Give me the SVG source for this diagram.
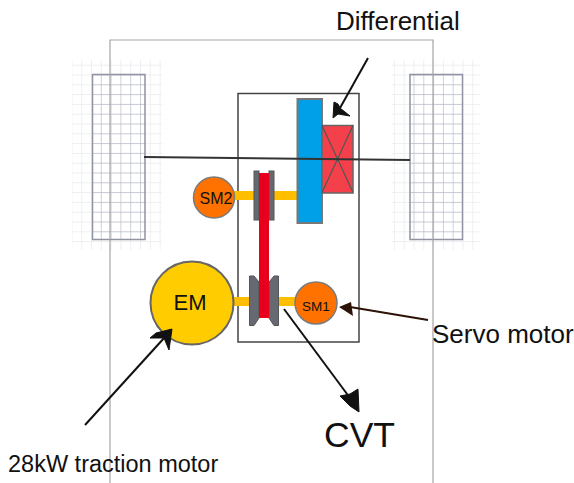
<svg xmlns="http://www.w3.org/2000/svg" width="574" height="483" viewBox="0 0 574 483">
<defs>
<pattern id="treadL" width="9.8" height="9.8" patternUnits="userSpaceOnUse" x="91" y="74.500"><path d="M0 0H9.800M0 0V9.800" stroke="#b4b8c4" stroke-width="1.300" fill="none"/></pattern>
<pattern id="treadR" width="9.8" height="9.8" patternUnits="userSpaceOnUse" x="413.500" y="74.500"><path d="M0 0H9.800M0 0V9.800" stroke="#b4b8c4" stroke-width="1.300" fill="none"/></pattern>
<pattern id="haloL" width="9.8" height="9.8" patternUnits="userSpaceOnUse" x="91" y="74.500"><path d="M0 0H9.800M0 0V9.800" stroke="#eeeff2" stroke-width="2" fill="none"/></pattern>
<pattern id="haloR" width="9.8" height="9.8" patternUnits="userSpaceOnUse" x="413.500" y="74.500"><path d="M0 0H9.800M0 0V9.800" stroke="#eeeff2" stroke-width="2" fill="none"/></pattern>
</defs>
<style>
text{font-family:"Liberation Sans",Arial,sans-serif;fill:#111}
.ln{stroke:#111;stroke-width:2;fill:none}
.ah{fill:#111;stroke:#111;stroke-linejoin:round}
.shaft{fill:#ffbe00}
.disc{fill:#666a70;stroke:#555}
.sm{fill:#ff7200;stroke:#7a7a7a;stroke-width:1.500}
.wheel{fill:none;stroke:#8f93a3;stroke-width:1.500}
</style>
<rect width="574" height="483" fill="#fff"/>
<g id="wheel-left"><rect x="72" y="60" width="90" height="190" fill="url(#haloL)"/><rect x="92.500" y="74.500" width="52.500" height="165" fill="#fff"/><rect x="92.500" y="74.500" width="52.500" height="165" fill="url(#treadL)"/><rect class="wheel" x="92.500" y="74.500" width="52.500" height="165"/></g>
<g id="wheel-right"><rect x="392" y="60" width="88" height="190" fill="url(#haloR)"/><rect x="410" y="74.500" width="52.500" height="165" fill="#fff"/><rect x="410" y="74.500" width="52.500" height="165" fill="url(#treadR)"/><rect class="wheel" x="410" y="74.500" width="52.500" height="165"/></g>
<g id="chassis"><path d="M110 483V40H433V483" fill="none" stroke="#a5a5a8" stroke-width="1.200"/></g>
<g id="gearbox"><rect x="238" y="93.500" width="121" height="248.500" fill="#fff" stroke="#444" stroke-width="1.500"/></g>
<g id="shafts"><rect class="shaft" x="218" y="191" width="80" height="9"/><rect class="shaft" x="232" y="297" width="66" height="9"/></g>
<g id="differential"><rect x="297.500" y="99" width="24.500" height="124" fill="#00a0e8" stroke="#777" stroke-width="2"/><rect x="322" y="125.500" width="31" height="67.500" fill="#f4404a" stroke="#666" stroke-width="1.500"/><path d="M322 125.500L353 192.500M353 125.500L322 192.500" stroke="#555" stroke-width="1.200" fill="none"/></g>
<g id="cvt"><rect x="254" y="171" width="5" height="49" class="disc"/><rect x="269" y="171" width="5" height="49" class="disc"/>
<path d="M249.500 276H254L259 282V318L254 325.500H249.500Z" class="disc"/><path d="M278.500 276H274L269 282V318L274 325.500H278.500Z" class="disc"/>
<rect x="259" y="173" width="10" height="145" fill="#e8001c"/></g>
<g id="axle"><path d="M144 157L410 160" stroke="#333" stroke-width="2" fill="none"/></g>
<g id="SM2"><circle class="sm" cx="214" cy="197.500" r="20.500"/><text x="216" y="204" font-size="16" text-anchor="middle">SM2</text></g>
<g id="SM1"><circle class="sm" cx="316" cy="303" r="21"/><text x="316" y="311" font-size="13.500" text-anchor="middle">SM1</text></g>
<g id="EM"><circle cx="192" cy="303" r="41.500" fill="#ffcc00" stroke="#666" stroke-width="2"/><text x="190" y="310" font-size="22" text-anchor="middle">EM</text></g>
<g id="connectors">
<path class="ln" d="M368 58L340 108"/><path class="ah" d="M334 102L338 104L340 108L350 116L338 114L333 118Z"/>
<path class="ln" d="M85 425L165 337"/><path class="ah" d="M172 329L169 350L164 338L150 338L156 333Z"/>
<path class="ln" d="M284 309L350 398"/><path class="ah" d="M358 389L359 412L350 406L340 396L350 394Z"/>
<path d="M428 320L350 307" stroke="#2d1208" stroke-width="2" fill="none"/><path d="M339 307L351 302L353 316Z" fill="#2d1208"/>
</g>
<g id="labels">
<text x="336" y="30" font-size="26">Differential</text>
<text x="432" y="343" font-size="26">Servo motor</text>
<text x="324" y="447" font-size="35.500">CVT</text>
<text x="8" y="472" font-size="23.500">28kW traction motor</text>
</g>
</svg>
